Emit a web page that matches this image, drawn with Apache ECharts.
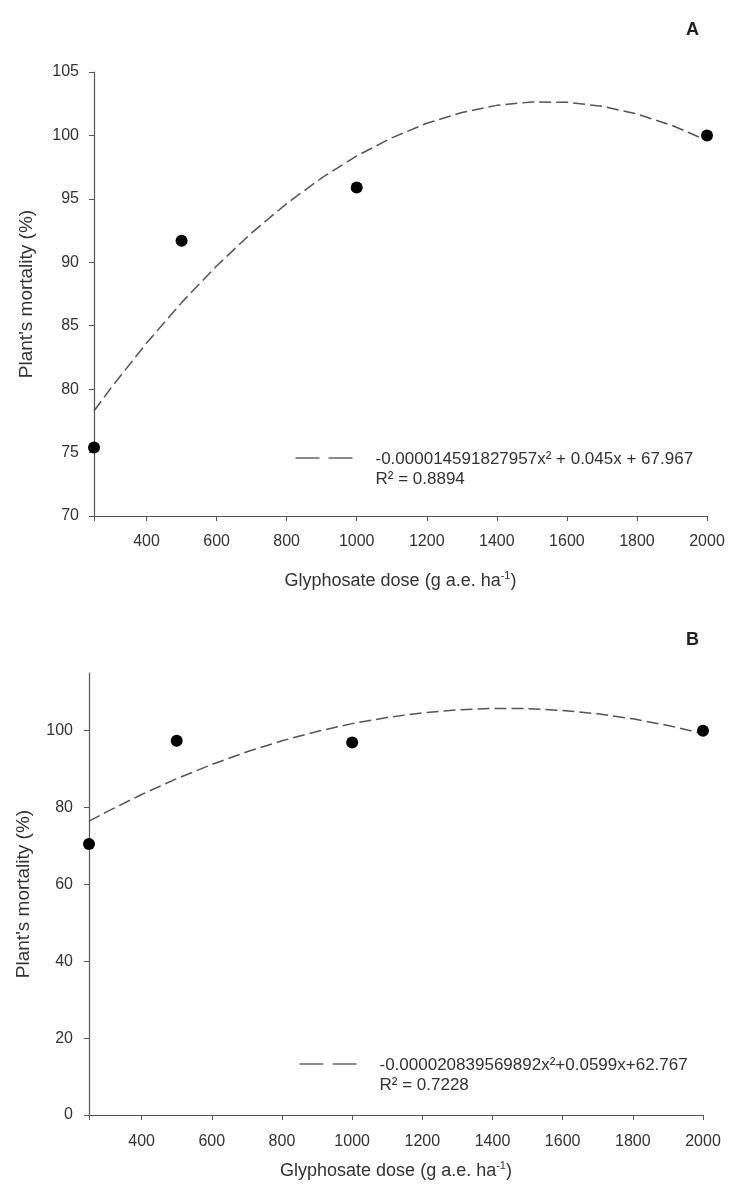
<!DOCTYPE html>
<html>
<head>
<meta charset="UTF-8">
<title>Plant's mortality vs glyphosate dose</title>
<script src="https://cdn.jsdelivr.net/npm/echarts@6/dist/echarts.min.js"></script>
<style>
  html, body { margin: 0; padding: 0; background: #fff; }
  #main { width: 729px; height: 1194px; }
</style>
</head>
<body>
<div id="main"></div>
<script type="text/javascript">
// observed doses and mortality
var doses = [250, 500, 1000, 2000];
var mortalityA = [75.4, 91.7, 95.9, 100.0];
var mortalityB = [70.5, 97.4, 96.9, 100.0];

// fitted curves
var fitDoses = [250, 300, 400, 500, 600, 700, 800, 900, 1000, 1100, 1200, 1300, 1400, 1500, 1600, 1700, 1800, 1900, 2000];
var fitA = [78.28, 80.15, 83.63, 86.82, 89.71, 92.32, 94.63, 96.65, 98.38, 99.81, 100.96, 101.81, 102.37, 102.64, 102.61, 102.30, 101.69, 100.79, 99.60];
var fitB = [76.44, 78.86, 83.39, 87.51, 91.20, 94.49, 97.35, 99.80, 101.83, 103.44, 104.64, 105.42, 105.78, 105.73, 105.26, 104.37, 103.07, 101.35, 99.21];

var xTicks = [250, 400, 600, 800, 1000, 1200, 1400, 1600, 1800, 2000];
var xLabels = [400, 600, 800, 1000, 1200, 1400, 1600, 1800, 2000];
var yTicksA = [70, 75, 80, 85, 90, 95, 100, 105];
var yTicksB = [0, 20, 40, 60, 80, 100];

var eqA = '-0.000014591827957x\u00b2 + 0.045x + 67.967';
var eqB = '-0.000020839569892x\u00b2+0.0599x+62.767';
var r2A = 'R\u00b2 = 0.8894';
var r2B = 'R\u00b2 = 0.7228';

function pairs(xs, ys) {
  return xs.map(function (x, i) { return [x, ys[i]]; });
}

var font = 'Liberation Sans, Arial, sans-serif';
var axisColor = '#555';
var textColor = '#333';

function xAxisCfg(gridIndex, gap, margin) {
  return {
    gridIndex: gridIndex,
    type: 'value',
    min: 250,
    max: 2000,
    name: '{t|Glyphosate dose (g a.e. ha}{sup|-1}{t|)}',
    nameLocation: 'middle',
    nameGap: gap,
    nameTextStyle: {
      fontFamily: font, fontSize: 18, color: textColor,
      rich: {
        t: { fontFamily: font, fontSize: 18, color: textColor, lineHeight: 22 },
        sup: { fontFamily: font, fontSize: 11, color: textColor, verticalAlign: 'top', lineHeight: 22 }
      }
    },
    axisLine: { lineStyle: { color: axisColor, width: 1.2 } },
    axisTick: { customValues: xTicks, length: 5, lineStyle: { color: axisColor } },
    axisLabel: {
      customValues: xLabels, fontFamily: font, fontSize: 16, color: textColor, margin: margin,
      formatter: function (v) { return String(v); }
    },
    splitLine: { show: false }
  };
}

function yAxisCfg(gridIndex, min, max, ticks, gap, margin) {
  return {
    gridIndex: gridIndex,
    type: 'value',
    min: min,
    max: max,
    name: "Plant's mortality (%)",
    nameLocation: 'middle',
    nameGap: gap,
    nameTextStyle: { fontFamily: font, fontSize: 19, color: textColor },
    axisLine: { show: true, lineStyle: { color: axisColor, width: 1.2 } },
    axisTick: { show: true, customValues: ticks, length: 5, lineStyle: { color: axisColor } },
    axisLabel: {
      customValues: ticks, fontFamily: font, fontSize: 16, color: textColor, margin: margin,
      formatter: function (v) { return String(v); }
    },
    splitLine: { show: false }
  };
}

function legendBlock(left, top, eq, r2) {
  return {
    type: 'group',
    left: left,
    top: top,
    children: [
      { type: 'line', shape: { x1: 0, y1: 9, x2: 57, y2: 9 },
        style: { stroke: '#666', lineWidth: 1.3, lineDash: [24, 9] } },
      { type: 'text', x: 80, y: 0,
        style: { text: eq + '\n' + r2, font: '17px ' + font, fill: textColor, lineHeight: 20 } }
    ]
  };
}

var myChart = echarts.init(document.getElementById('main'));

var option = {
  backgroundColor: '#fff',
  animation: false,
  grid: [
    { left: 94, top: 72, right: 22, height: 444 },
    { left: 89, top: 673, right: 26, height: 442 }
  ],
  xAxis: [xAxisCfg(0, 54, 18), xAxisCfg(1, 45, 19)],
  yAxis: [
    yAxisCfg(0, 70, 105, yTicksA, 58, 15),
    yAxisCfg(1, 0, 115, yTicksB, 56, 16)
  ],
  title: [
    { text: 'A', left: 681, top: 16, textStyle: { fontFamily: font, fontSize: 18, fontWeight: 'bold', color: '#222' } },
    { text: 'B', left: 681, top: 626, textStyle: { fontFamily: font, fontSize: 18, fontWeight: 'bold', color: '#222' } }
  ],
  graphic: [
    legendBlock(293, 449, eqA, r2A),
    legendBlock(297, 1055, eqB, r2B)
  ],
  series: [
    {
      name: 'fit A', type: 'line', xAxisIndex: 0, yAxisIndex: 0,
      data: pairs(fitDoses, fitA), smooth: false, showSymbol: false, symbol: 'none',
      lineStyle: { color: '#555', width: 1.5, type: [12, 5] }, z: 2
    },
    {
      name: 'observed A', type: 'scatter', xAxisIndex: 0, yAxisIndex: 0,
      data: pairs(doses, mortalityA), symbolSize: 12,
      itemStyle: { color: '#000', opacity: 1 }, z: 3
    },
    {
      name: 'fit B', type: 'line', xAxisIndex: 1, yAxisIndex: 1,
      data: pairs(fitDoses, fitB), smooth: false, showSymbol: false, symbol: 'none',
      lineStyle: { color: '#555', width: 1.5, type: [12, 5] }, z: 2
    },
    {
      name: 'observed B', type: 'scatter', xAxisIndex: 1, yAxisIndex: 1,
      data: pairs(doses, mortalityB), symbolSize: 12,
      itemStyle: { color: '#000', opacity: 1 }, z: 3
    }
  ]
};

myChart.setOption(option);
</script>
</body>
</html>
